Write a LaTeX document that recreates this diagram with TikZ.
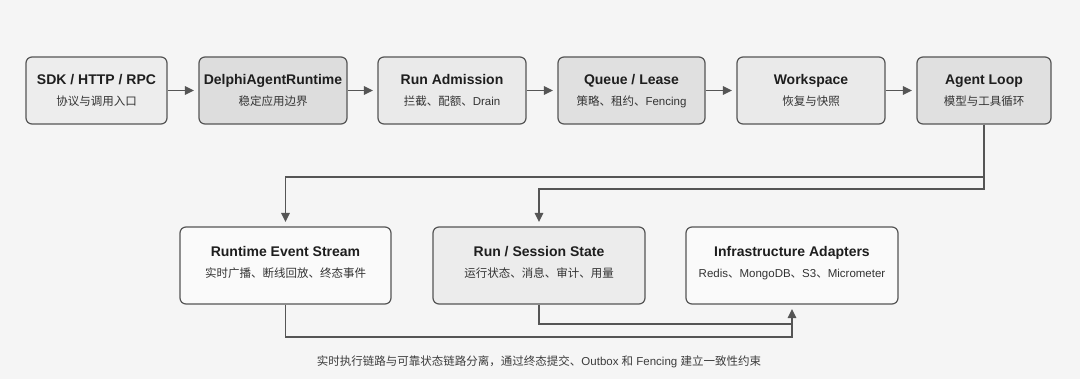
\documentclass[tikz,border=0pt]{standalone}
\usepackage{fontspec}
\setmainfont{Liberation Sans}
\newfontfamily\cjk{Noto Sans CJK SC}
\usetikzlibrary{arrows.meta,calc}
\definecolor{bgc}{HTML}{F5F5F5}
\definecolor{edgec}{HTML}{555555}
\definecolor{linec}{HTML}{555555}
\definecolor{fa}{HTML}{EDEDED}
\definecolor{fb}{HTML}{DDDDDD}
\definecolor{fc}{HTML}{EAEAEA}
\definecolor{fd}{HTML}{E0E0E0}
\definecolor{fw}{HTML}{FAFAFA}
\definecolor{fs}{HTML}{ECECEC}
\definecolor{ttlc}{HTML}{1E1E1E}
\definecolor{subc}{HTML}{333333}
\definecolor{capc}{HTML}{3C3C3C}
\tikzset{
  boxst/.style={draw=edgec, line width=1.2pt, rounded corners=6pt, inner sep=0pt},
  ttl/.style={anchor=base, inner sep=0pt, text=ttlc, font=\fontsize{14}{16}\selectfont\bfseries},
  subt/.style={anchor=base, inner sep=0pt, text=subc, font=\fontsize{11.5}{13}\selectfont},
  arr/.style={draw=linec, line width=1.4pt, -{Triangle[length=9pt,width=8.5pt]}, shorten >=4.5pt},
  ln/.style={draw=linec, line width=1.4pt}
}
\begin{document}
\begin{tikzpicture}[x=1pt,y=-1pt]
\fill[bgc] (0,0) rectangle (1080,379);
\useasboundingbox (0,0) rectangle (1080,379);

% top row
\node[boxst, fill=fa, minimum width=141pt, minimum height=67pt] (b1) at (96.5,90.5) {};
\node[boxst, fill=fb, minimum width=148pt, minimum height=67pt] (b2) at (273,90.5) {};
\node[boxst, fill=fc, minimum width=148pt, minimum height=67pt] (b3) at (452,90.5) {};
\node[boxst, fill=fd, minimum width=147pt, minimum height=67pt] (b4) at (631.5,90.5) {};
\node[boxst, fill=fc, minimum width=148pt, minimum height=67pt] (b5) at (811,90.5) {};
\node[boxst, fill=fd, minimum width=134pt, minimum height=67pt] (b6) at (984,90.5) {};

\node[ttl] (b1t) at ([yshift=5.5pt]b1.center) {SDK / HTTP / RPC};
\node[subt] (b1s) at ([yshift=-15pt]b1.center) {\cjk 协议与调用入口};
\node[ttl] (b2t) at ([yshift=5.5pt]b2.center) {DelphiAgentRuntime};
\node[subt] (b2s) at ([yshift=-15pt]b2.center) {\cjk 稳定应用边界};
\node[ttl] (b3t) at ([yshift=5.5pt]b3.center) {Run Admission};
\node[subt] (b3s) at ([yshift=-15pt]b3.center) {{\cjk 拦截、配额、}Drain};
\node[ttl] (b4t) at ([yshift=5.5pt]b4.center) {Queue / Lease};
\node[subt] (b4s) at ([yshift=-15pt]b4.center) {{\cjk 策略、租约、}Fencing};
\node[ttl] (b5t) at ([yshift=5.5pt]b5.center) {Workspace};
\node[subt] (b5s) at ([yshift=-15pt]b5.center) {\cjk 恢复与快照};
\node[ttl] (b6t) at ([yshift=5.5pt]b6.center) {Agent Loop};
\node[subt] (b6s) at ([yshift=-15pt]b6.center) {\cjk 模型与工具循环};

% bottom row
\node[boxst, fill=fw, minimum width=211pt, minimum height=77pt] (ra) at (285.5,265.5) {};
\node[boxst, fill=fs, minimum width=212pt, minimum height=77pt] (rb) at (539,265.5) {};
\node[boxst, fill=fw, minimum width=212pt, minimum height=77pt] (rc) at (792,265.5) {};

\node[ttl] (rat) at ([yshift=9pt]ra.center) {Runtime Event Stream};
\node[subt] (ras) at ([yshift=-12pt]ra.center) {\cjk 实时广播、断线回放、终态事件};
\node[ttl] (rbt) at ([yshift=9pt]rb.center) {Run / Session State};
\node[subt] (rbs) at ([yshift=-12pt]rb.center) {\cjk 运行状态、消息、审计、用量};
\node[ttl] (rct) at ([yshift=9pt]rc.center) {Infrastructure Adapters};
\node[subt] (rcs) at ([yshift=-12pt]rc.center) {Redis{\cjk 、}MongoDB{\cjk 、}S3{\cjk 、}Micrometer};

% caption
\node[anchor=base, inner sep=0pt, text=capc, font=\fontsize{11.5}{13}\selectfont] (cap) at (539,366)
  {{\cjk 实时执行链路与可靠状态链路分离，通过终态提交、}Outbox {\cjk 和} Fencing {\cjk 建立一致性约束}};

% top arrows
\draw[arr] (b1.east) -- (b2.west);
\draw[arr] (b2.east) -- (b3.west);
\draw[arr] (b3.east) -- (b4.west);
\draw[arr] (b4.east) -- (b5.west);
\draw[arr] (b5.east) -- (b6.west);

% fan-out from Agent Loop
\coordinate (busA) at (0,177);
\coordinate (busB) at (0,189);
\draw[arr] (b6.south) |- (busA -| ra.north) -- (ra.north);
\draw[arr] (b6.south) |- (busB -| rb.north) -- (rb.north);

% into infrastructure
\coordinate (busC) at (0,337);
\coordinate (busD) at (0,324);
\draw[arr] (ra.south) |- (busC -| rc.south) -- (rc.south);
\draw[ln] (rb.south) |- (busD -| rc.south);
\end{tikzpicture}
\end{document}
